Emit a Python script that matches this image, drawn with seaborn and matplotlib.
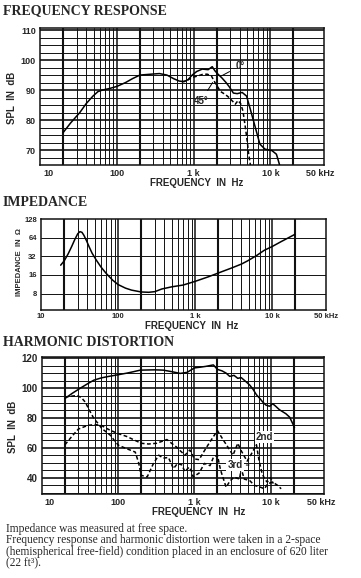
import seaborn as sns
import matplotlib.pyplot as plt
import matplotlib.transforms as mtransforms
import pandas as pd

# Frequency response, 0 deg (solid) and 45 deg (dashed)
fr0_hz = [20, 25, 33, 40, 49, 57, 65, 80, 100, 130, 160, 200, 280, 360, 450, 550, 650, 750,
          850, 960, 1100, 1300, 1550, 1750, 1900, 2100, 2350, 2650, 2900, 3300, 3700, 4300,
          4900, 5500, 6300, 7300, 8500, 10500, 12000, 12700, 13200]
fr0_db = [75.8, 79, 82.5, 85.5, 88, 89.5, 90, 90.5, 91.2, 92.5, 93.8, 95, 95.3, 95.5, 95, 93.8,
          93, 92.8, 93.5, 95, 96.2, 97, 96.8, 97.8, 96.4, 95.2, 94, 92.5, 91.2, 89, 88.8, 89.2,
          88, 83.5, 78, 72, 70.3, 69.8, 68.6, 66.5, 65]
fr45_hz = [700, 800, 950, 1100, 1300, 1500, 1700, 1900, 2250, 2600, 2900, 3300, 3500, 3800,
           4100, 4400, 4700, 5000, 5200, 5500]
fr45_db = [92.8, 93, 94.2, 94.6, 95.2, 95.3, 94.8, 92.5, 89.5, 88.5, 87.5, 86, 85.3, 86.5,
           85.5, 83, 78, 73, 69, 65]

# Impedance (ohm)
imp_hz = [18, 20, 22.5, 25, 27.5, 30, 32, 34, 36, 39, 42, 46, 52, 60, 70, 85, 100, 125, 150,
          200, 250, 300, 370, 500, 700, 1000, 1500, 2100, 3000, 4000, 4800, 6300, 7900, 10000,
          13000, 16000, 19600]
imp_ohm = [23, 27, 35, 46, 60, 74, 80, 78, 70, 57, 46, 36, 28, 21.5, 17, 13.2, 11.2, 9.8, 9.1,
           8.5, 8.4, 8.6, 9.5, 10.3, 11, 12.6, 15, 17.6, 20.8, 24, 27, 33, 40, 46, 55, 63, 72]

# Harmonic distortion: fundamental, 2nd and 3rd
fund_hz = [20, 25, 32, 40, 48, 60, 75, 97, 130, 160, 195, 300, 390, 500, 650, 800, 1000, 1200,
           1400, 1770, 2000, 2300, 2600, 2900, 3300, 3700, 4100, 4800, 5300, 5800, 6500, 7200,
           7900, 8700, 9700, 10600, 11500, 13000, 15800, 17700, 19500, 20500]
fund_db = [93, 96.5, 100, 103, 105.3, 106.8, 107.8, 108.8, 110, 111, 112, 112.2, 112, 111,
           109.8, 110.5, 113.5, 114, 114.5, 115.5, 112.5, 111.5, 110, 107.8, 108.5, 106.5, 107,
           104, 102, 99.5, 95.5, 93, 90.5, 88.5, 87.8, 89.5, 88, 85.5, 82.8, 80.5, 76, 73.5]
h2_hz = [20, 25, 30, 40, 50, 60, 70, 80, 100, 130, 165, 200, 250, 320, 435, 500, 580, 650, 750,
         870, 1000, 1150, 1350, 1600, 2000, 2400, 2900, 3200, 3700, 4100, 4900, 5600, 6500,
         7000, 7600, 8300, 9000, 10000, 10800]
h2_db = [62, 68, 72.5, 75, 75.5, 75, 73, 71.5, 69.5, 67.5, 65, 63, 62.5, 63, 65.5, 63, 60.5, 58,
         55, 58.5, 52.5, 52, 58, 64, 71.5, 65, 58.5, 55, 63, 58, 51, 56, 62, 52, 44, 39, 37, 40, 36]
h3_hz = [20, 24, 29, 33, 37, 42, 48, 55, 61, 70, 79, 90, 101, 130, 167, 185, 200, 240, 290, 340,
         390, 455, 530, 600, 680, 750, 850, 920, 960, 1150, 1350, 1600, 1770, 2000, 2200, 2600,
         2900, 3300, 3900, 4100, 4500, 5300, 6100, 7200, 8300, 9100, 10600, 12300, 13700]
h3_db = [94, 94.5, 95, 93.5, 90.5, 85, 79.5, 76, 72.8, 70.5, 68.3, 64.5, 61.6, 59.3, 57.1, 50,
         41.5, 40.5, 49.5, 55, 53, 53.5, 46, 49.5, 48.5, 44, 47, 44, 40.5, 43, 49.5, 48, 53.5, 55,
         45, 33.5, 37.5, 40.3, 39, 46, 39, 38, 34.8, 33.7, 32.5, 35.8, 37, 34.8, 32.5]

sns.set_style("white")
plt.rcParams['font.family'] = ['Liberation Sans', 'DejaVu Sans']

W, H = 361, 578
fig = plt.figure(figsize=(W / 100, H / 100), dpi=100)
fig.patch.set_facecolor('white')

serif = 'Liberation Serif'
ink = '#111111'


def box(l, t, r, b):
    return fig.add_axes([l / W, 1 - b / H, (r - l) / W, (b - t) / H])


def offset(dx):
    return mtransforms.ScaledTranslation(dx / 100, 0, fig.dpi_scale_trans)


def decorate(ax, hlines, thick_h, first_dx, last_dx):
    ax.set_xscale('log')
    ax.set_xlim(10, 50000)
    vl = [m * d for d in (10, 100, 1000) for m in range(2, 10)] + [100, 1000, 10000, 20000]
    for f in vl:
        if f in (20, 200, 2000, 20000):
            lw = 1.5
        elif f in (100, 1000, 10000):
            lw = 1.1
        else:
            lw = 0.7
        ax.axvline(f, color=ink, lw=lw, zorder=1)
    for y in hlines:
        ax.axhline(y, color=ink, lw=1.2 if y in thick_h else 0.7, zorder=1)
    ax.set_xticks([10, 100, 1000, 10000, 50000],
                  labels=['10', '100', '1 k', '10 k', '50 kHz'])
    ax.minorticks_off()
    ax.tick_params(length=0, labelsize=6.5, pad=3)
    labs = ax.get_xticklabels()
    for lab in labs:
        lab.set_fontweight('bold')
    labs[0].set_transform(labs[0].get_transform() + offset(first_dx))
    labs[-1].set_transform(labs[-1].get_transform() + offset(last_dx))
    for s in ax.spines.values():
        s.set_color(ink)
        s.set_linewidth(1.1)
    ax.set_xlabel('FREQUENCY  IN  Hz', fontsize=7, fontweight='bold')


def curve(ax, xs, ys, dashed=False):
    df = pd.DataFrame({'hz': xs, 'v': ys})
    kw = dict(linestyle=(0, (2.5, 1.6))) if dashed else {}
    sns.lineplot(data=df, x='hz', y='v', ax=ax, color='black', lw=1.1,
                 estimator=None, sort=False, zorder=3, **kw)


# ---------- frequency response ----------
fig.text(3 / W, 1 - 11 / H, 'FREQUENCY RESPONSE', family=serif, weight='bold',
         size=10, va='center', ha='left')
ax1 = box(40, 28, 324, 165)
decorate(ax1, [65 + 2.5 * i for i in range(19)], [70, 80, 90, 100, 110], 8, -4)
ax1.set_ylim(65, 110.7)
ax1.set_yticks([70, 80, 90, 100, 110])
for lab in ax1.get_yticklabels():
    lab.set_fontweight('bold')
curve(ax1, fr0_hz, fr0_db)
curve(ax1, fr45_hz, fr45_db, dashed=True)
ax1.annotate("0°", xy=(2150, 94.3), xytext=(3500, 98), fontsize=7, fontweight='bold',
             ha='left', va='center', arrowprops=dict(arrowstyle='-', lw=0.7, color='black'))
ax1.annotate("45°", xy=(1850, 93.3), xytext=(1250, 86.3), fontsize=7, fontweight='bold',
             ha='center', va='center', arrowprops=dict(arrowstyle='-', lw=0.7, color='black'))
ax1.set_ylabel('SPL  IN  dB', fontsize=7, fontweight='bold')
ax1.yaxis.set_label_coords(-0.081, 0.49)
ax1.xaxis.set_label_coords(0.553, -0.13)
ax1.xaxis.label.set_va('center')

# ---------- impedance ----------
fig.text(3 / W, 1 - 203 / H, 'IMPEDANCE', family=serif, weight='bold',
         size=10, va='center', ha='left')
ax2 = box(41, 219, 326, 310)
decorate(ax2, [8, 16, 32, 64], [], 6, 2)
ax2.set_yscale('log', base=2)
ax2.set_ylim(4.35, 128)
ax2.set_yticks([8, 16, 32, 64, 128], labels=['8', '16', '32', '64', '128'])
ax2.minorticks_off()
ax2.tick_params(length=0, labelsize=5.5, pad=3)
ax2.tick_params(axis='x', pad=2)
for lab in ax2.get_yticklabels():
    lab.set_fontweight('bold')
curve(ax2, imp_hz, imp_ohm)
ax2.set_ylabel('IMPEDANCE  IN  Ω', fontsize=5.5, fontweight='bold')
ax2.yaxis.set_label_coords(-0.063, 0.53)
ax2.xaxis.set_label_coords(0.529, -0.176)
ax2.xaxis.label.set_va('center')

# ---------- harmonic distortion ----------
fig.text(3 / W, 1 - 342 / H, 'HARMONIC DISTORTION', family=serif, weight='bold',
         size=10, va='center', ha='left')
ax3 = box(42, 357, 324, 494)
decorate(ax3, [30 + 5 * i for i in range(19)], [40, 60, 80, 100, 120], 7, -3)
ax3.set_ylim(29, 120.8)
ax3.set_yticks([40, 60, 80, 100, 120])
ax3.tick_params(axis='y', labelsize=7)
for lab in ax3.get_yticklabels():
    lab.set_fontweight('bold')
curve(ax3, fund_hz, fund_db)
curve(ax3, h2_hz, h2_db, dashed=True)
curve(ax3, h3_hz, h3_db, dashed=True)
ax3.annotate('2nd', xy=(6400, 61.5), xytext=(8300, 67.2), fontsize=7, fontweight='bold',
             ha='center', va='center', zorder=5,
             bbox=dict(boxstyle='square,pad=0.1', fc='white', ec='none'),
             arrowprops=dict(arrowstyle='-', lw=0.7, color='black'))
ax3.annotate('3rd', xy=(5200, 48.4), xytext=(3400, 48.4), fontsize=7, fontweight='bold',
             ha='center', va='center', zorder=5,
             bbox=dict(boxstyle='square,pad=0.1', fc='white', ec='none'),
             arrowprops=dict(arrowstyle='-', lw=0.7, color='black'))
ax3.set_ylabel('SPL  IN  dB', fontsize=7, fontweight='bold')
ax3.yaxis.set_label_coords(-0.084, 0.49)
ax3.xaxis.set_label_coords(0.557, -0.129)
ax3.xaxis.label.set_va('center')

# ---------- notes ----------
notes = ['Impedance was measured at free space.',
         'Frequency response and harmonic distortion were taken in a 2-space',
         '(hemispherical free-field) condition placed in an enclosure of 620 liter',
         '(22 ft³).']
fig.text(6 / W, 1 - 546 / H, '\n'.join(notes), family=serif, size=8.3,
         va='center', ha='left', linespacing=0.95)

fig.savefig('out.png', dpi=100)
